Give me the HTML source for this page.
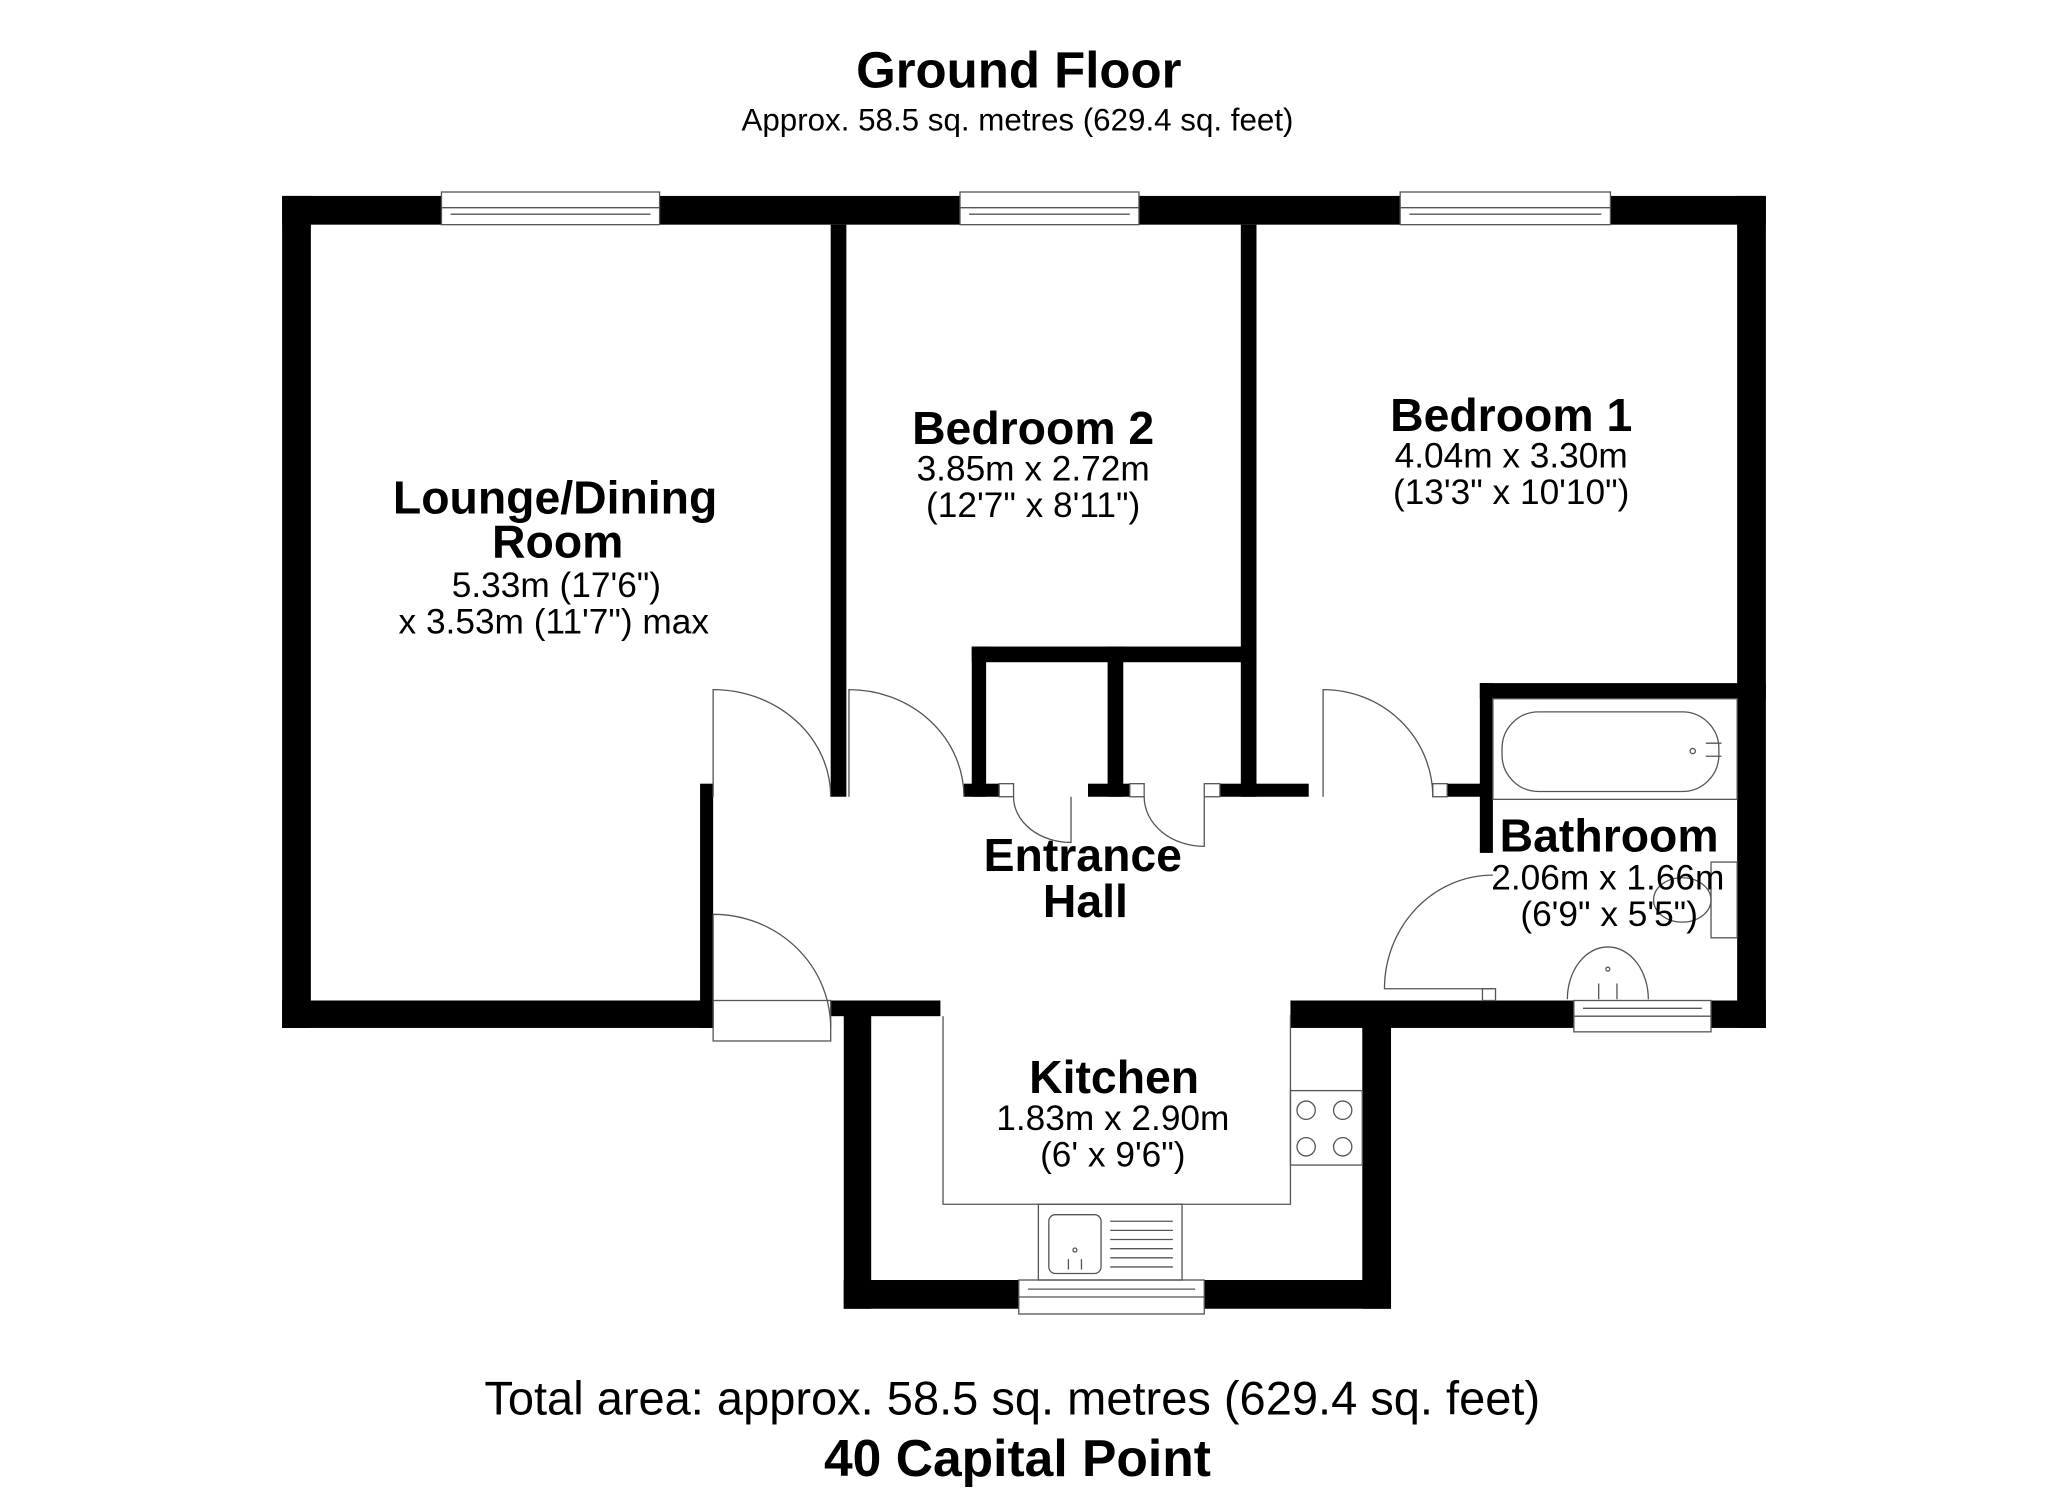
<!DOCTYPE html>
<html><head><meta charset="utf-8"><style>
html,body{margin:0;padding:0;background:#fff;}
svg{display:block;}
text{font-family:"Liberation Sans",Arial,sans-serif;fill:#000;text-anchor:middle;}
.b{font-weight:bold;font-size:35.5px;}
.n{font-size:27px;}
</style></head><body>
<svg width="2048" height="1489" viewBox="0 0 1568 1140" xmlns="http://www.w3.org/2000/svg">
<rect width="1568" height="1140" fill="#fff"/>
<text x="780" y="67" style="font-weight:bold;font-size:39px">Ground Floor</text>
<text x="779" y="100" style="font-size:24px">Approx. 58.5 sq. metres (629.4 sq. feet)</text>

<g fill="#000">
<rect x="216" y="150" width="1136" height="22"/>
<rect x="216" y="150" width="22" height="637"/>
<rect x="216" y="766" width="330" height="21"/>
<rect x="536" y="600" width="10" height="187"/>
<rect x="1330" y="150" width="22" height="637"/>
<rect x="988" y="766" width="364" height="21"/>
<rect x="636" y="766" width="84" height="12"/>
<rect x="646" y="766" width="21" height="236"/>
<rect x="646" y="980" width="419" height="22"/>
<rect x="1043" y="766" width="22" height="236"/>
<rect x="636" y="172" width="12" height="438"/>
<rect x="950" y="172" width="12" height="438"/>
<rect x="744" y="495" width="218" height="12"/>
<rect x="744" y="495" width="11" height="115"/>
<rect x="848" y="495" width="12" height="115"/>
<rect x="738" y="600" width="27" height="10"/>
<rect x="833" y="600" width="32" height="10"/>
<rect x="934" y="600" width="68" height="10"/>
<rect x="1108" y="600" width="27" height="10"/>
<rect x="1133" y="523" width="219" height="12"/>
<rect x="1133" y="523" width="10" height="130"/>
</g>

<g fill="#fff" stroke="#555" stroke-width="1">
<rect x="338" y="147" width="167" height="25"/><line x1="338" y1="159" x2="505" y2="159"/><line x1="345" y1="164" x2="498" y2="164"/>
<rect x="735" y="147" width="137" height="25"/><line x1="735" y1="159" x2="872" y2="159"/><line x1="742" y1="164" x2="865" y2="164"/>
<rect x="1072" y="147" width="161" height="25"/><line x1="1072" y1="159" x2="1233" y2="159"/><line x1="1079" y1="164" x2="1226" y2="164"/>
<rect x="780" y="980" width="142" height="26"/><line x1="780" y1="993" x2="922" y2="993"/><line x1="787" y1="987" x2="915" y2="987"/>
<rect x="1205" y="766" width="105" height="24"/><line x1="1205" y1="778" x2="1310" y2="778"/><line x1="1212" y1="772" x2="1303" y2="772"/>
<rect x="765" y="600" width="11" height="10"/>
<rect x="865" y="600" width="11" height="10"/>
<rect x="922" y="600" width="12" height="10"/>
<rect x="1097" y="600" width="11" height="10"/>
<rect x="546" y="766" width="90" height="31"/>
<rect x="1135" y="757" width="10" height="9"/>
</g>

<g fill="none" stroke="#555" stroke-width="1">
<path d="M546 610 V528 A90 82 0 0 1 636 610"/>
<path d="M650 610 V528 A88 82 0 0 1 738 610"/>
<path d="M1013 610 V528 A84 82 0 0 1 1097 610"/>
<path d="M820 610 V645 A44 35 0 0 1 776 610"/>
<path d="M922 610 V648 A46 38 0 0 1 876 610"/>
<path d="M546 787 V700 A90 87 0 0 1 636 787"/>
<path d="M1143 757 H1060 A83 87 0 0 1 1143 670"/>
<path d="M722 778 V922 H988 V777"/>
<rect x="988" y="835" width="55" height="57"/>
<circle cx="1000" cy="850" r="7"/><circle cx="1028" cy="850" r="7"/>
<circle cx="1000" cy="878" r="7"/><circle cx="1028" cy="878" r="7"/>
<rect x="795" y="922" width="110" height="58"/>
<rect x="803" y="930" width="40" height="45" rx="5"/>
<circle cx="823" cy="957" r="1.5"/>
<path d="M818 972 v-8 M828 972 v-8"/>
<path d="M850 935 h48 M850 942 h48 M850 949 h48 M850 956 h48 M850 963 h48 M850 970 h48"/>
<rect x="1143" y="535" width="187" height="77"/>
<rect x="1150" y="545" width="166" height="61" rx="28"/>
<circle cx="1296" cy="575" r="2"/>
<path d="M1306 569 h12 M1306 579 h12"/>
<rect x="1310" y="660" width="20" height="58"/>
<ellipse cx="1288" cy="689" rx="22" ry="17"/>
<path d="M1200 765 A31 40 0 0 1 1262 765"/>
<circle cx="1231" cy="742" r="1.5"/>
<path d="M1224 765 v-12 M1238 765 v-12"/>
</g>

<text class="b" x="425" y="393">Lounge/Dining</text>
<text class="b" x="427" y="427">Room</text>
<text class="n" x="426" y="457">5.33m (17'6")</text>
<text class="n" x="424" y="485">x 3.53m (11'7") max</text>
<text class="b" x="791" y="340">Bedroom 2</text>
<text class="n" x="791" y="368">3.85m x 2.72m</text>
<text class="n" x="791" y="396">(12'7" x 8'11")</text>
<text class="b" x="1157" y="330">Bedroom 1</text>
<text class="n" x="1157" y="358">4.04m x 3.30m</text>
<text class="n" x="1157" y="386">(13'3" x 10'10")</text>
<text class="b" x="829" y="667">Entrance</text>
<text class="b" x="831" y="702">Hall</text>
<text class="b" x="1232" y="652">Bathroom</text>
<text class="n" x="1231" y="681">2.06m x 1.66m</text>
<text class="n" x="1232" y="709">(6'9" x 5'5")</text>
<text class="b" x="853" y="837">Kitchen</text>
<text class="n" x="852" y="865">1.83m x 2.90m</text>
<text class="n" x="852" y="893">(6' x 9'6")</text>
<text x="775" y="1083" style="font-size:36px">Total area: approx. 58.5 sq. metres (629.4 sq. feet)</text>
<text x="779" y="1130" style="font-weight:bold;font-size:39.5px">40 Capital Point</text>
</svg>
</body></html>
